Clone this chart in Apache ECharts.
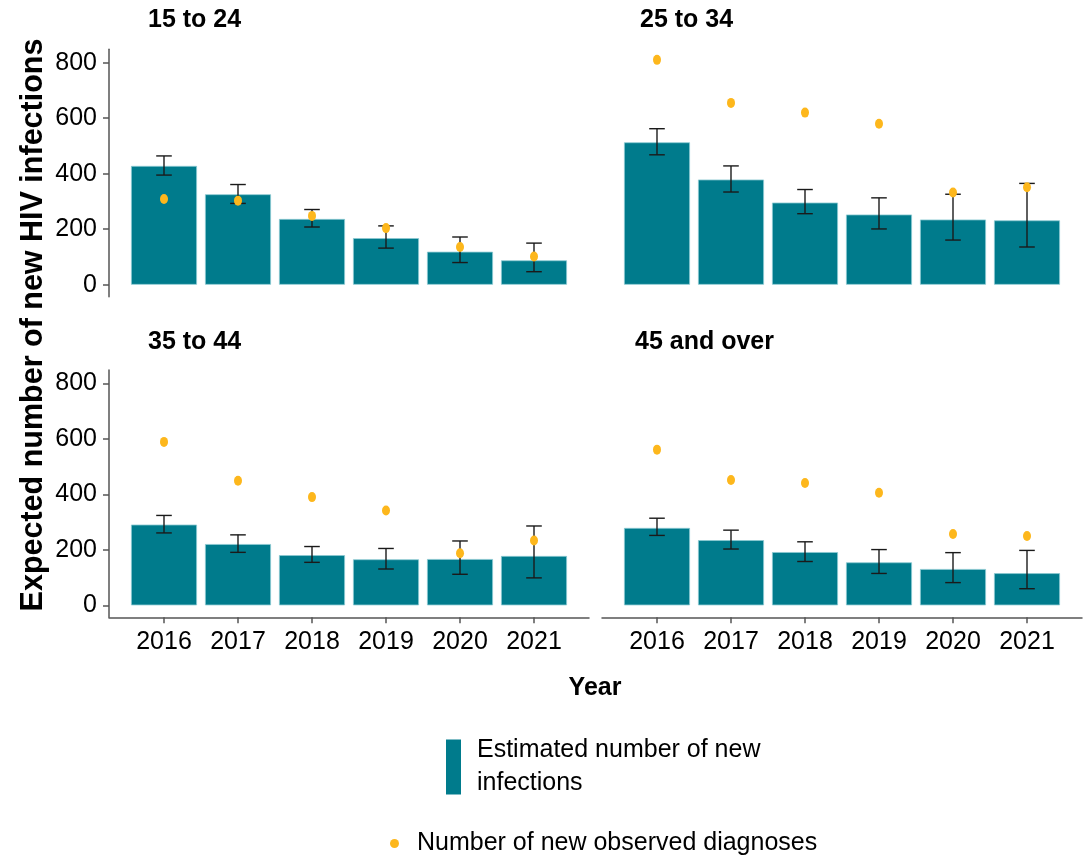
<!DOCTYPE html>
<html><head><meta charset="utf-8">
<script src="https://cdn.jsdelivr.net/npm/echarts@6/dist/echarts.min.js"></script>
<style>html,body{margin:0;padding:0;background:#fff}#c{width:1091px;height:859px}</style>
</head><body><div id="c"></div>
<script>
const years = ['2016','2017','2018','2019','2020','2021'];
const panels = ['15 to 24','25 to 34','35 to 44','45 and over'];
const yTicks = [0,200,400,600,800];

const est_15_24 = [428,326,237,168,119,88];
const lo_15_24  = [395,293,208,132,80,47];
const hi_15_24  = [464,361,271,212,172,150];
const obs_15_24 = [309,303,248,204,136,102];

const est_25_34 = [513,379,296,253,235,232];
const lo_25_34  = [468,334,256,201,161,136];
const hi_25_34  = [562,428,343,313,326,365];
const obs_25_34 = [810,655,620,580,332,351];

const est_35_44 = [291,221,181,166,167,178];
const lo_35_44  = [261,191,155,131,112,99];
const hi_35_44  = [324,254,212,205,232,286];
const obs_35_44 = [589,449,390,342,188,234];

const est_45 = [279,235,192,155,131,116];
const lo_45  = [252,203,158,115,82,60];
const hi_45  = [314,271,229,201,190,198];
const obs_45 = [561,452,441,406,257,250];

const EST = [est_15_24, est_25_34, est_35_44, est_45];
const LO  = [lo_15_24, lo_25_34, lo_35_44, lo_45];
const HI  = [hi_15_24, hi_25_34, hi_35_44, hi_45];
const OBS = [obs_15_24, obs_25_34, obs_35_44, obs_45];

const LEG1 = 'Estimated number of new\ninfections';
const LEG2 = 'Number of new observed diagnoses';
const SANS = '"Liberation Sans",Arial,Helvetica,sans-serif';
const BAR = '#007B8C';
const DOT = '#FDB71C';
const AX = '#555555';
const FS = 25;

const gridPos = [
  {left:109, top:49.3, width:480, height:247.4},
  {left:602, top:49.3, width:480, height:247.4},
  {left:109, top:370, width:480, height:247.3},
  {left:602, top:370, width:480, height:247.3}
];
const xIdx = years.map((y,i)=>i+1);

const grids = gridPos.map(g=>Object.assign({containLabel:false}, g));
const xAxes = gridPos.map((g,i)=>({
  type:'value', gridIndex:i, min:0.2568, max:6.7432,
  splitLine:{show:false},
  axisLine:{show:i>=2, onZero:false, lineStyle:{color:AX, width:1.5}},
  axisTick:{show:i>=2, customValues:xIdx, length:6, lineStyle:{color:AX, width:1.5}},
  axisLabel:{show:i>=2, customValues:xIdx, margin:12, color:'#000', fontSize:FS, fontFamily:SANS,
    formatter:v=>years[Math.round(v)-1]}
}));
const yAxes = gridPos.map((g,i)=>({
  type:'value', gridIndex:i, min:-43, max:848,
  splitLine:{show:false},
  axisLine:{show:i%2===0, lineStyle:{color:AX, width:1.5}},
  axisTick:{show:i%2===0, customValues:yTicks, length:6, lineStyle:{color:AX, width:1.5}},
  axisLabel:{show:i%2===0, customValues:yTicks, margin:12, color:'#000', fontSize:FS, fontFamily:SANS}
}));

const series = [];
panels.forEach((p,i)=>{
  series.push({
    type:'bar', name:LEG1, xAxisIndex:i, yAxisIndex:i, z:2,
    barWidth:66, data:EST[i].map((v,j)=>[xIdx[j], v]),
    itemStyle:{color:BAR, borderColor:'#8cc9d2', borderWidth:0.8}
  });
  series.push({
    type:'custom', name:'err'+i, xAxisIndex:i, yAxisIndex:i, z:3,
    data:LO[i].map((v,j)=>[xIdx[j], v, HI[i][j]]),
    encode:{x:0, y:[1,2]},
    renderItem:(params, api)=>{
      const x = api.value(0);
      const pL = api.coord([x, api.value(1)]);
      const pH = api.coord([x, api.value(2)]);
      const w = 7.8;
      const st = {stroke:'#1a1a1a', lineWidth:1.4};
      return {type:'group', children:[
        {type:'line', shape:{x1:pH[0], y1:pH[1], x2:pL[0], y2:pL[1]}, style:st},
        {type:'line', shape:{x1:pH[0]-w, y1:pH[1], x2:pH[0]+w, y2:pH[1]}, style:st},
        {type:'line', shape:{x1:pL[0]-w, y1:pL[1], x2:pL[0]+w, y2:pL[1]}, style:st}
      ]};
    }
  });
  series.push({
    type:'scatter', name:LEG2, xAxisIndex:i, yAxisIndex:i, z:4,
    symbol:'circle', symbolSize:[8,10], data:OBS[i].map((v,j)=>[xIdx[j], v]),
    itemStyle:{color:DOT, opacity:1}
  });
});

const titleStyle = {fontSize:FS, fontWeight:'bold', fontFamily:SANS, color:'#000'};
const titles = [
  {text:panels[0], left:148, top:8},
  {text:panels[1], left:640, top:8},
  {text:panels[2], left:148, top:330},
  {text:panels[3], left:635, top:330}
].map(t=>Object.assign({padding:0, textStyle:titleStyle}, t));

const chart = echarts.init(document.getElementById('c'), null, {renderer:'canvas'});
chart.setOption({
  animation:false,
  backgroundColor:'#fff',
  title:titles,
  grid:grids, xAxis:xAxes, yAxis:yAxes, series:series,
  legend:[
    {data:[{name:LEG1, icon:'rect'}], left:446, top:734, padding:0, orient:'vertical',
     itemWidth:15, itemHeight:55, selectedMode:false,
     itemStyle:{borderWidth:0},
     textStyle:{fontSize:FS, lineHeight:33, fontFamily:SANS, color:'#000', padding:[0,0,0,11]}},
    {data:[{name:LEG2, icon:'circle'}], left:390, top:831, padding:0, orient:'vertical',
     itemWidth:9, itemHeight:9, selectedMode:false,
     textStyle:{fontSize:FS, fontFamily:SANS, color:'#000', padding:[0,0,0,13]}}
  ],
  graphic:[
    {type:'text', x:34, y:325, rotation:Math.PI/2,
     style:{text:'Expected number of new HIV infections', align:'center', verticalAlign:'middle',
       font:'bold 30.5px '+SANS, fill:'#000'}},
    {type:'text', x:595, y:688,
     style:{text:'Year', align:'center', verticalAlign:'middle', font:'bold '+FS+'px '+SANS, fill:'#000'}}
  ]
});
</script></body></html>
